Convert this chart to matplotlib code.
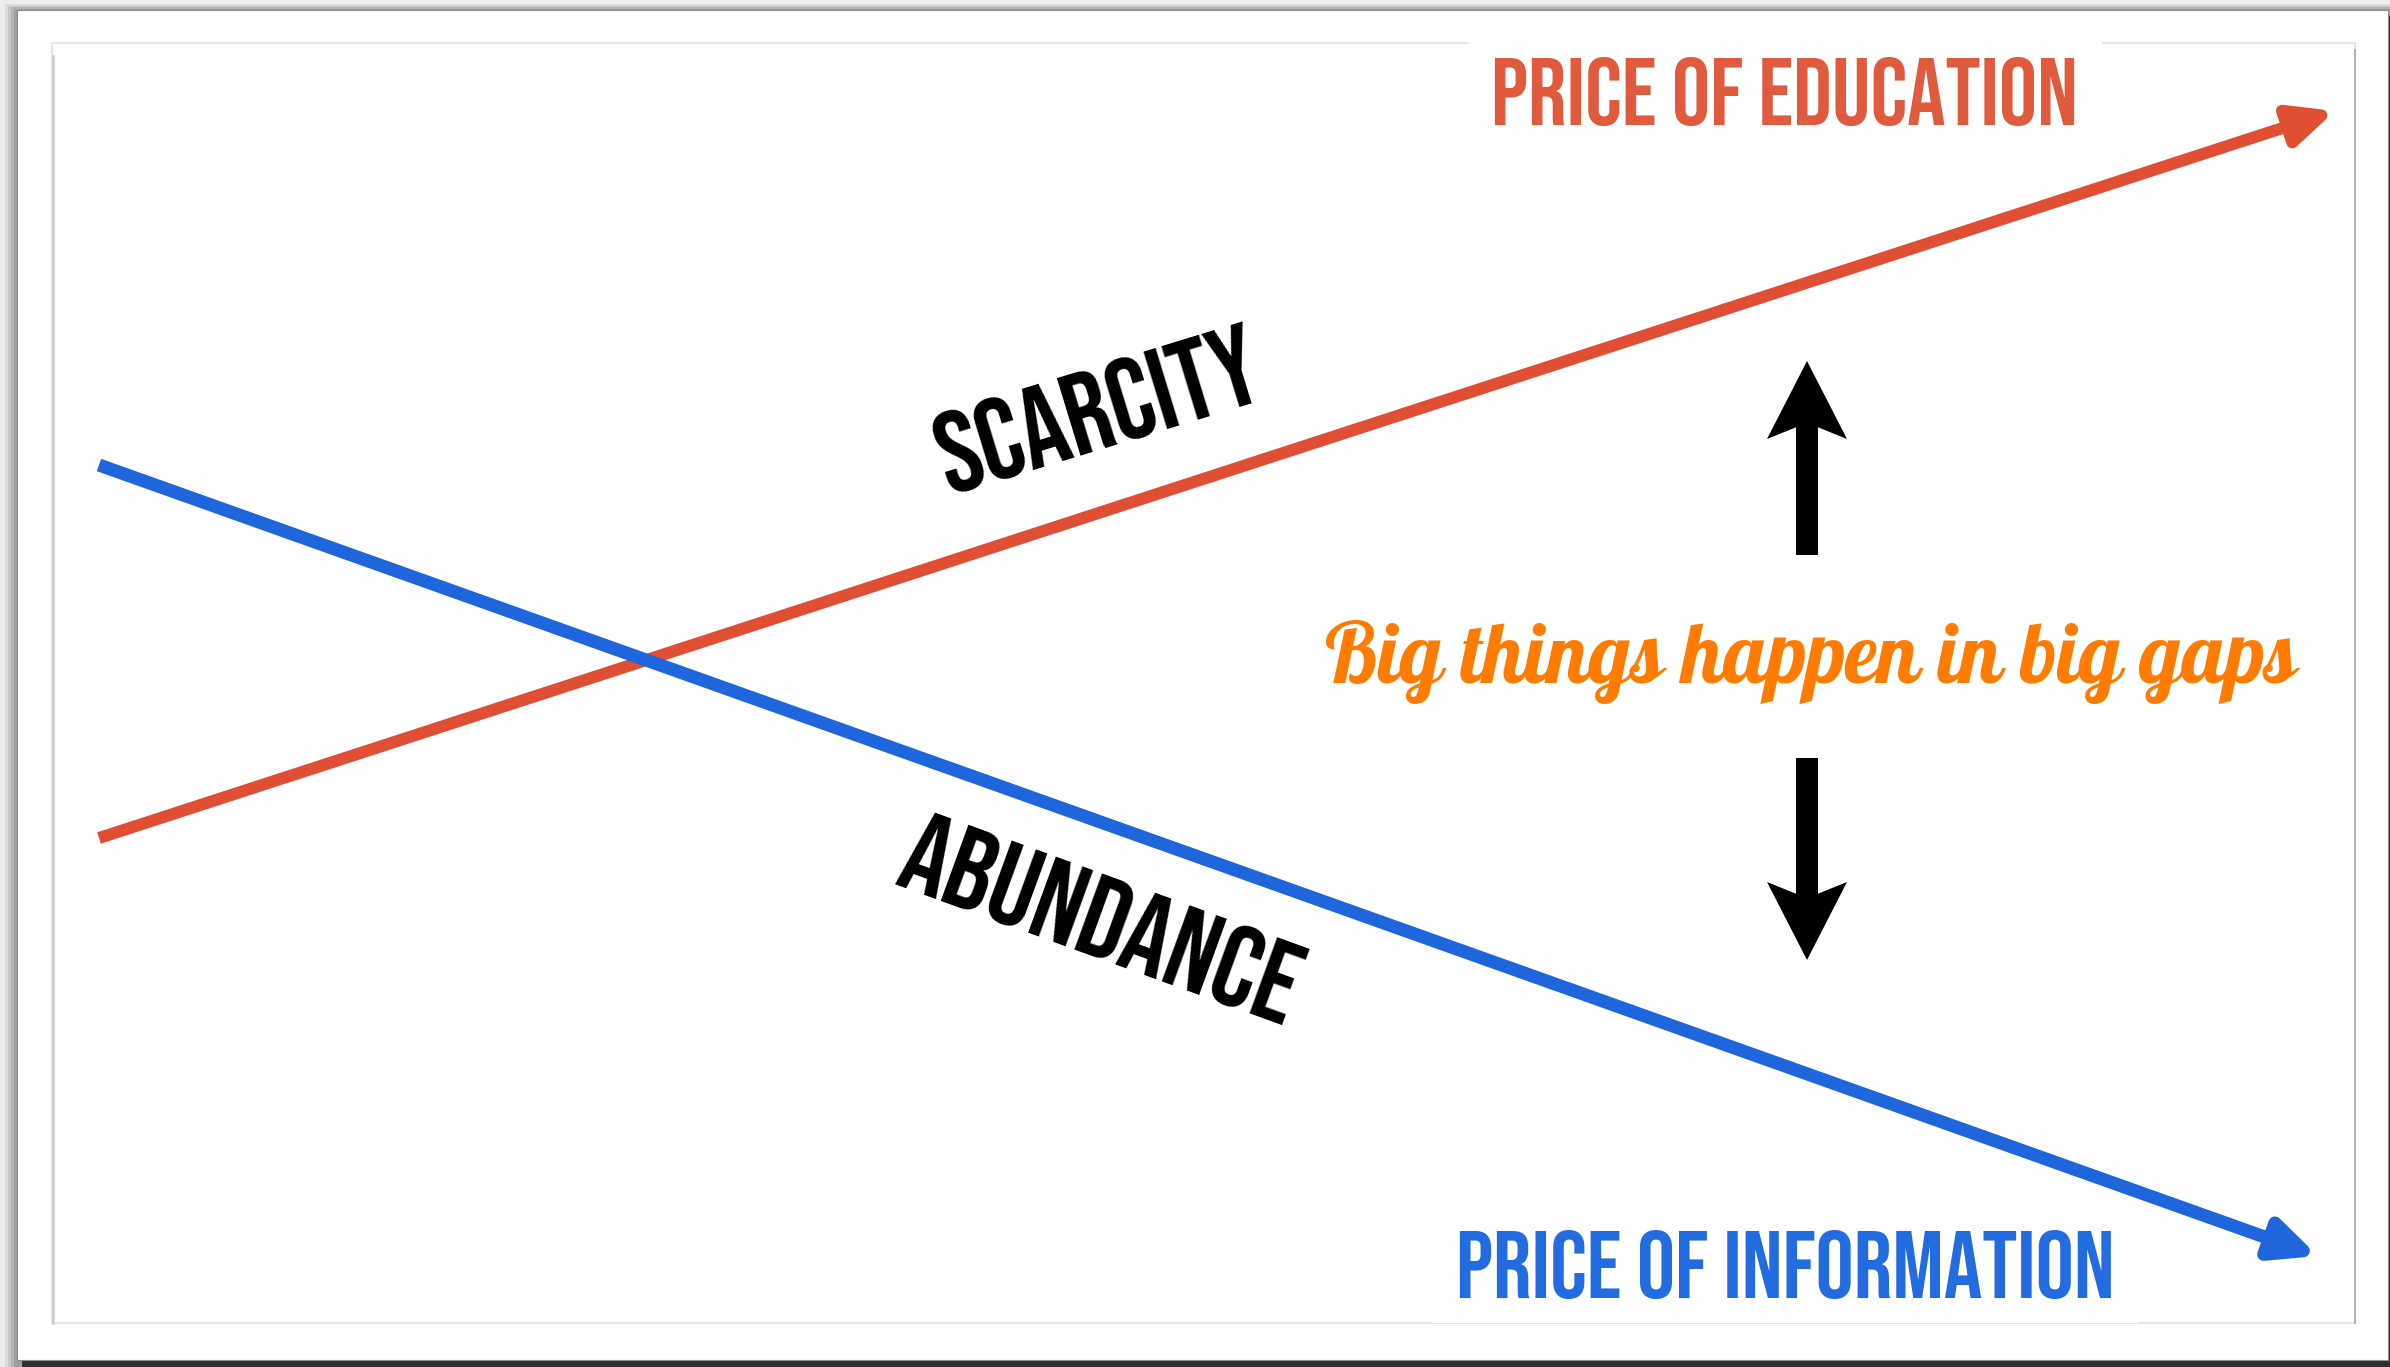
import matplotlib
matplotlib.use("Agg")
import matplotlib.pyplot as plt
from matplotlib.patches import Rectangle

# line end points (start, arrow tip) in picture pixels
edu_x = [99, 2335]
edu_y = [838, 111]
info_x = [99, 2318]
info_y = [465, 1256]

# the two black gap arrows (x, tail y, tip y)
gap_x = [1807, 1807]
gap_tail = [555, 758]
gap_tip = [361, 960]

labels = ["PRICE OF EDUCATION", "PRICE OF INFORMATION", "SCARCITY", "ABUNDANCE"]
gap_text = "Big things happen in big gaps"

red = "#e04f34"
blue = "#1f66dd"
W, H = 2390, 1367

fig = plt.figure(figsize=(W / 100, H / 100), dpi=100, facecolor="#ededed")
ax = fig.add_axes([0, 0, 1, 1])
ax.set_xlim(0, W)
ax.set_ylim(H, 0)
ax.axis("off")

# card with drop shadow
for i, c in enumerate(["#dcdcdc", "#c8c8c8", "#b4b4b4", "#9f9f9f"]):
    ax.add_patch(Rectangle((5 + i * 3, 4 + i * 1.5), W, H, fc=c, ec="none", zorder=0.1 + i * 0.01))
ax.add_patch(Rectangle((22, 16), W - 22, H - 16, fc="#2f2f2f", ec="none", zorder=0.2))
ax.add_patch(Rectangle((17, 10), 2388 - 17, 1360 - 10, fc="white", ec="#8c8c8c", lw=0.8, zorder=0.3))

# inner frame
ax.add_patch(Rectangle((52, 43), 2355 - 52, 1323 - 43, fc="white", ec="#e6e6e6", lw=1.5, zorder=0.4))
ax.plot([53, 53], [56, 1323], color="#cccccc", lw=1.8, zorder=0.5)
ax.plot([2355, 2355], [50, 1323], color="#a9a9a9", lw=1.2, zorder=0.5)

bebas = ["Bebas Neue", "DejaVu Sans"]
lobster = ["Lobster", "DejaVu Sans"]

# the two price lines
ax.annotate("", xy=(edu_x[1], edu_y[1]), xytext=(edu_x[0], edu_y[0]),
            arrowprops=dict(arrowstyle="-|>,head_length=1.3,head_width=0.6", mutation_scale=20,
                            lw=8.6, color=red, shrinkA=0, shrinkB=0, capstyle="butt"), zorder=2)
ax.annotate("", xy=(info_x[1], info_y[1]), xytext=(info_x[0], info_y[0]),
            arrowprops=dict(arrowstyle="-|>,head_length=1.3,head_width=0.6", mutation_scale=20,
                            lw=9.4, color=blue, shrinkA=0, shrinkB=0, capstyle="butt"), zorder=3)

# gap arrows
for x, t0, t1 in zip(gap_x, gap_tail, gap_tip):
    ax.arrow(x, t0, 0, t1 - t0, width=22, head_width=80, head_length=78, overhang=0.15,
             length_includes_head=True, fc="black", ec="none", zorder=4)

ax.text(1785, 125, labels[0], family=bebas, fontsize=69, color="#e05a3e", ha="center", va="baseline",
        bbox=dict(boxstyle="square,pad=0.25", fc="white", ec="none"), zorder=5)
ax.text(1785, 1298, labels[1], family=bebas, fontsize=69, color="#236cdf", ha="center", va="baseline",
        bbox=dict(boxstyle="square,pad=0.25", fc="white", ec="none"), zorder=5)
ax.text(1097, 408, labels[2], family=bebas, fontsize=83, color="black", ha="center", va="center",
        rotation=17, rotation_mode="anchor", zorder=5)
ax.text(1103, 917, labels[3], family=bebas, fontsize=83, color="black", ha="center", va="center",
        rotation=-20, rotation_mode="anchor", zorder=5)
ax.text(1811, 683, gap_text, family=lobster, fontsize=60, color="#ff7c00", ha="center", va="baseline",
        zorder=5)

fig.savefig("out.png", dpi=100, facecolor=fig.get_facecolor())
